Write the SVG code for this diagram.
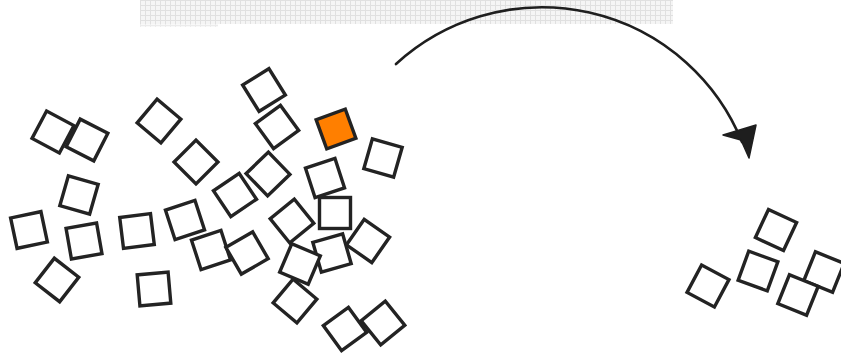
<svg xmlns="http://www.w3.org/2000/svg" width="841" height="355" viewBox="0 0 841 355">
<style>
.sq{fill:#fff;stroke:#232323;stroke-width:3.4;stroke-linejoin:miter}
.hl{fill:#ff7f00}
.arc{fill:none;stroke:#1e1e1e;stroke-width:2.6;stroke-linecap:round}
.head{fill:#1e1e1e;stroke:#1e1e1e;stroke-width:1.5;stroke-linejoin:round}
</style>
<defs>
<pattern id="grid" width="5" height="5" patternUnits="userSpaceOnUse">
<rect width="5" height="5" fill="#f5f5f5"/>
<path d="M0 0.5H5M0.5 0V5" stroke="#e0e0e0" stroke-width="1"/>
</pattern>
<rect id="s" x="-15.5" y="-15.5" width="31" height="31"/>
</defs>
<rect x="140" y="0" width="533" height="24" fill="url(#grid)"/>
<rect x="140" y="24" width="78" height="3" fill="url(#grid)" opacity="0.6"/>
<g id="nodes">
<g id="n1"><use href="#s" class="sq" transform="translate(53,132) rotate(28)"/></g>
<g id="n2"><use href="#s" class="sq" transform="translate(87,140) rotate(27)"/></g>
<g id="n3"><use href="#s" class="sq" transform="translate(159,121) rotate(40)"/></g>
<g id="n4"><use href="#s" class="sq" transform="translate(196,162) rotate(45)"/></g>
<g id="n5"><use href="#s" class="sq" transform="translate(264,90) rotate(-32)"/></g>
<g id="n6"><use href="#s" class="sq" transform="translate(277,127) rotate(-36)"/></g>
<g id="n7"><use href="#s" class="sq hl" transform="translate(336,129) rotate(-20)"/></g>
<g id="n8"><use href="#s" class="sq" transform="translate(383,158) rotate(16)"/></g>
<g id="n9"><use href="#s" class="sq" transform="translate(79,195) rotate(16)"/></g>
<g id="n10"><use href="#s" class="sq" transform="translate(29,230) rotate(-12)"/></g>
<g id="n11"><use href="#s" class="sq" transform="translate(84,241) rotate(-10)"/></g>
<g id="n12"><use href="#s" class="sq" transform="translate(57,280) rotate(38)"/></g>
<g id="n13"><use href="#s" class="sq" transform="translate(137,231) rotate(-7)"/></g>
<g id="n14"><use href="#s" class="sq" transform="translate(185,220) rotate(-18)"/></g>
<g id="n15"><use href="#s" class="sq" transform="translate(154,289) rotate(-5)"/></g>
<g id="n16"><use href="#s" class="sq" transform="translate(235,195) rotate(-34)"/></g>
<g id="n17"><use href="#s" class="sq" transform="translate(268,174) rotate(-44)"/></g>
<g id="n18"><use href="#s" class="sq" transform="translate(325,178) rotate(-18)"/></g>
<g id="n19"><use href="#s" class="sq" transform="translate(211,250) rotate(-18)"/></g>
<g id="n20"><use href="#s" class="sq" transform="translate(247,253) rotate(-30)"/></g>
<g id="n21"><use href="#s" class="sq" transform="translate(292,221) rotate(-39)"/></g>
<g id="n22"><use href="#s" class="sq" transform="translate(335,213) rotate(0)"/></g>
<g id="n23"><use href="#s" class="sq" transform="translate(368,241) rotate(35)"/></g>
<g id="n24"><use href="#s" class="sq" transform="translate(332,253) rotate(-16)"/></g>
<g id="n25"><use href="#s" class="sq" transform="translate(300,264) rotate(23)"/></g>
<g id="n26"><use href="#s" class="sq" transform="translate(295,301) rotate(40)"/></g>
<g id="n27"><use href="#s" class="sq" transform="translate(345,329) rotate(-36)"/></g>
<g id="n28"><use href="#s" class="sq" transform="translate(383,323) rotate(-39)"/></g>
<g id="n29"><use href="#s" class="sq" transform="translate(776,230) rotate(25)"/></g>
<g id="n30"><use href="#s" class="sq" transform="translate(708,286) rotate(28)"/></g>
<g id="n31"><use href="#s" class="sq" transform="translate(758,271) rotate(20)"/></g>
<g id="n32"><use href="#s" class="sq" transform="translate(824,272) rotate(22)"/></g>
<g id="n33"><use href="#s" class="sq" transform="translate(798,295) rotate(22)"/></g>
</g>
<g id="connectors">
<path class="arc" d="M396,64 A216,216 0 0 1 742,142"/>
<polygon class="head" points="749,158 741,140 723,135 756,125"/>
</g>
</svg>
